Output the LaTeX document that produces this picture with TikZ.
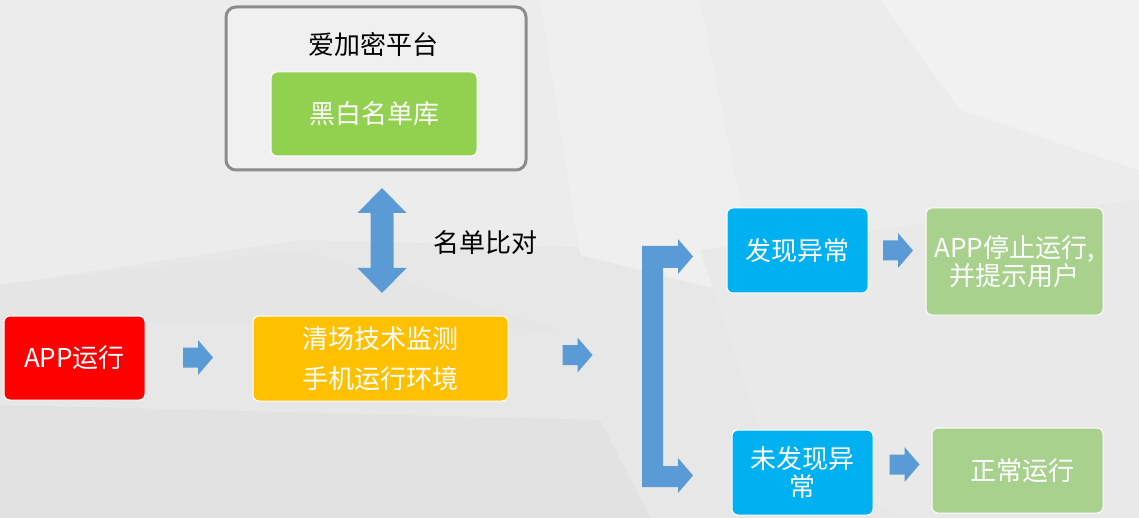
\documentclass[tikz,border=0pt]{standalone}
\usepackage{fontspec}
\newfontfamily\cjk{Noto Sans CJK SC}
\definecolor{bgbase}{HTML}{E7E7E7}
\definecolor{arrowblue}{HTML}{5B9BD5}
\definecolor{appred}{HTML}{FF0000}
\definecolor{monyellow}{HTML}{FFC000}
\definecolor{listgreen}{HTML}{92D050}
\definecolor{resgreen}{HTML}{A9D18E}
\definecolor{findblue}{HTML}{00B0F0}
\definecolor{frame}{HTML}{8C8C8C}
\tikzset{
  box/.style={rounded corners=6pt, draw=white, line width=1pt, text=white,
    align=center, inner sep=0pt, font=\cjk\fontsize{26}{28}\selectfont},
  plain/.style={font=\cjk\fontsize{26}{28}\selectfont, text=black, inner sep=0pt},
  rarrow/.pic={\fill[arrowblue] (-15,-10) -- (0,-10) -- (0,-17.5) -- (15,0) -- (0,17.5) -- (0,10) -- (-15,10) -- cycle;},
  vdarrow/.pic={\fill[arrowblue] (0,-52.5) -- (24.5,-27.5) -- (11.5,-27.5) -- (11.5,27.5) -- (24.5,27.5)
     -- (0,52.5) -- (-24.5,27.5) -- (-11.5,27.5) -- (-11.5,-27.5) -- (-24.5,-27.5) -- cycle;}
}
\begin{document}
\begin{tikzpicture}[x=1pt,y=-1pt]
\useasboundingbox (0,0) rectangle (1139,518);
% background
\fill[bgbase] (0,0) rectangle (1139,518);
\fill[color={rgb,255:red,236;green,236;blue,236}] (0,0) -- (1139,0) -- (1139,200) -- (700,250) -- (300,240) -- (0,285) -- cycle;
\fill[color={rgb,255:red,241;green,241;blue,241}] (880,0) -- (1139,0) -- (1139,170) -- (960,110) -- cycle;
\fill[color={rgb,255:red,239;green,239;blue,239}] (540,0) -- (700,0) -- (760,300) -- (580,255) -- cycle;
\fill[color={rgb,255:red,226;green,226;blue,226}] (0,405) -- (600,420) -- (650,518) -- (0,518) -- cycle;
\fill[color={rgb,255:red,229;green,229;blue,229}] (0,285) -- (300,250) -- (560,330) -- (0,320) -- cycle;
\fill[color={rgb,255:red,233;green,233;blue,233}] (700,250) -- (1139,200) -- (1139,518) -- (900,518) -- (760,430) -- cycle;

% top platform
\node[draw=frame, line width=3pt, rounded corners=10pt, fill=white, fill opacity=0.25,
  minimum width=300pt, minimum height=163pt, inner sep=0pt] (platform) at (376,88.5) {};
\node[plain] (ptitle) at (373,45) {爱加密平台};
\node[box, fill=listgreen, minimum width=206pt, minimum height=84pt] (list) at (374,114) {黑白名单库};

% main row
\node[box, fill=appred, minimum width=141pt, minimum height=84pt] (app) at (74.5,358) {APP运行};
\node[box, fill=monyellow, minimum width=255pt, minimum height=85pt,
  font=\cjk\fontsize{26}{40}\selectfont] (mon) at (380.5,358.5) {清场技术监测\\手机运行环境};

% comparison double arrow
\coordinate (cmp) at (382,240.5);
\pic at (cmp) {vdarrow};
\node[plain, anchor=west] (cmplabel) at (433,243) {名单比对};

\coordinate (a1) at (198,357.5);
\pic at (a1) {rarrow};
\coordinate (a2) at (577.5,355);
\pic at (a2) {rarrow};

% bracket
\fill[arrowblue] (642,246) -- (678,246) -- (678,239) -- (693,256.5) -- (678,274) -- (678,268)
  -- (663,268) -- (663,466) -- (678,466) -- (678,458) -- (693,475.5) -- (678,493)
  -- (678,487) -- (642,487) -- cycle;

% results
\node[box, fill=findblue, minimum width=141pt, minimum height=85pt] (found) at (797.5,250.5) {发现异常};
\node[box, fill=resgreen, minimum width=177pt, minimum height=107pt] (stop) at (1014.5,261.5) {APP停止运行,\\并提示用户};
\node[box, fill=findblue, minimum width=141pt, minimum height=85pt] (nfound) at (802.5,472.5) {未发现异\\常};
\node[box, fill=resgreen, minimum width=171pt, minimum height=85pt] (normal) at (1017.5,470.5) {\hspace*{10pt}正常运行};

\coordinate (a3) at (898,250.5);
\pic at (a3) {rarrow};
\coordinate (a4) at (904.5,464.5);
\pic at (a4) {rarrow};
\end{tikzpicture}
\end{document}
